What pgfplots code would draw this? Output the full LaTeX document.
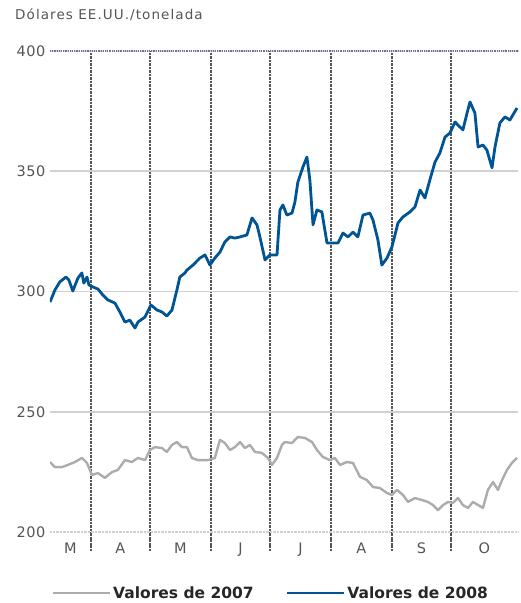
\documentclass[border=0pt]{standalone}
\usepackage{fontspec}
\setmainfont{DejaVu Sans}
\usepackage{pgfplots}
\pgfplotsset{compat=1.18}
\usepackage{pgfplotstable}

\definecolor{azul}{RGB}{0,84,147}
\definecolor{gris}{RGB}{172,172,172}
\definecolor{texto}{RGB}{85,85,85}
\definecolor{tope}{RGB}{110,110,170}

% day counted from 1 March 2008 (Apr 1 = 31 ... Oct 1 = 214), value in US$/t
\pgfplotstableread{
d v
10.2 229.1
12.7 227.0
16.3 227.0
19.3 227.9
22.9 229.1
26.4 230.8
29.0 228.7
31.5 223.7
34.6 224.5
38.1 222.5
41.7 224.9
44.7 225.8
48.3 229.9
51.8 229.1
54.9 230.8
58.5 229.9
61.0 234.1
63.5 235.3
67.1 234.9
69.6 233.3
72.2 236.2
74.7 237.4
77.3 235.3
79.8 235.3
82.3 230.8
85.4 229.9
90.5 229.9
94.0 230.8
96.6 238.3
99.1 237.0
101.7 234.1
104.2 235.3
106.8 237.4
109.3 234.9
111.8 236.2
114.4 233.3
117.9 232.9
121.0 230.8
123.0 227.9
125.6 230.8
128.1 236.2
129.6 237.4
133.2 237.0
136.2 239.5
139.8 239.1
143.4 237.4
145.9 234.1
148.9 231.2
152.5 229.9
155.0 230.8
157.6 227.9
161.2 229.1
164.2 228.7
167.8 222.9
171.3 221.6
174.4 218.7
177.9 218.3
181.5 216.2
184.0 215.4
186.6 217.5
189.6 215.4
192.2 212.5
195.7 214.1
199.3 213.3
202.3 212.5
204.9 211.2
207.4 209.1
210.0 211.2
212.5 212.5
215.0 212.1
217.6 214.1
220.1 211.2
222.7 210.0
225.2 212.5
227.8 211.2
230.3 210.0
232.8 217.5
235.4 220.8
237.9 217.5
240.0 221.6
242.5 225.8
245.0 228.7
247.6 230.8
}\datosA

\pgfplotstableread{
d v
10.2 295.6
12.7 300.6
15.2 304.0
18.3 306.0
19.8 304.8
21.8 300.2
24.4 305.6
26.4 307.7
27.4 303.5
29.0 306.0
30.0 302.7
32.0 301.9
34.6 301.0
37.1 298.5
39.6 296.5
43.2 295.2
45.7 291.5
48.3 287.3
50.8 288.1
53.4 284.8
54.9 287.3
58.5 289.4
61.5 294.4
64.6 292.3
67.1 291.5
69.6 289.8
72.2 292.3
74.7 300.6
76.2 306.0
78.8 307.7
79.8 308.9
82.9 311.0
86.4 313.9
89.0 315.2
91.5 311.0
94.0 313.9
96.6 316.4
99.1 320.6
101.7 322.7
104.2 322.2
106.8 322.7
110.3 323.5
112.9 330.6
115.4 327.7
116.9 322.7
119.5 313.1
122.0 315.2
125.6 315.2
127.1 333.9
128.6 336.0
130.6 331.8
133.2 332.6
134.7 337.2
136.2 345.5
138.8 351.8
140.8 355.9
142.3 346.4
143.9 327.7
145.9 333.9
148.4 333.1
151.0 320.2
153.5 320.2
156.6 320.2
159.1 324.3
161.7 322.7
164.2 324.7
166.7 322.7
169.3 331.8
172.8 332.6
174.4 329.7
176.9 321.4
178.9 311.0
181.5 313.9
184.0 318.5
187.1 328.5
189.6 331.0
193.2 333.1
195.7 335.1
198.3 342.2
200.8 338.9
203.3 346.4
205.9 353.8
208.4 357.6
211.0 364.2
213.5 365.9
216.1 370.5
217.6 369.2
220.1 367.2
222.2 374.2
223.7 378.8
226.2 374.2
227.8 360.1
230.3 360.9
232.3 358.8
234.9 351.4
236.4 360.1
238.9 370.1
241.5 372.6
244.0 371.3
245.5 373.4
247.6 376.3
}\datosB

\begin{document}
\begin{tikzpicture}
\useasboundingbox (-50pt,-71pt) rectangle (470pt,532pt);
\begin{axis}[
  at={(0pt,0pt)}, anchor=south west,
  scale only axis, width=468pt, height=481pt,
  xmin=10.2, xmax=248.1, ymin=200, ymax=400,
  axis line style={draw=none},
  ytick={250,300,350},
  extra y ticks={200,400},
  extra y tick style={grid style={densely dotted, line width=1.2pt, color=texto}},
  ymajorgrids, y grid style={line width=1.5pt, color=black!18},
  ytick style={draw=none},
  xtick={31,61,92,122,153,184,214},
  xticklabels={},
  xmajorgrids, x grid style={densely dotted, line width=1.4pt, color=texto},
  xtick pos=bottom, tick align=outside, major tick length=18pt,
  xtick style={densely dotted, line width=1.4pt, color=texto},
  extra x ticks={20.6,46,76.5,107,137.5,168.5,199,231},
  extra x tick labels={M,A,M,J,J,A,S,O},
  extra x tick style={grid=none, major tick length=0pt, xtick style={draw=none}},
  tick label style={font=\fontsize{14.5}{16}\selectfont\addfontfeature{LetterSpace=4}, text=texto},
  /pgf/number format/assume math mode=true,
  yticklabel style={xshift=17pt},
  xticklabel style={yshift=-7pt},
  legend columns=2,
  legend style={at={(0.472,0)}, anchor=center, yshift=-61pt, draw=none, fill=none,
    font=\fontsize{15.5}{17}\selectfont\bfseries, text=black!85,
    /tikz/every even column/.append style={column sep=30pt}},
  legend image code/.code={\draw[#1] (0pt,0pt) -- (57pt,0pt);},
]
\addplot[gris, line width=2.4pt, line join=round] table[x=d, y=v] {\datosA};
\addlegendentry{Valores de 2007}
\addplot[azul, line width=2.8pt, line join=round] table[x=d, y=v] {\datosB};
\addlegendentry{Valores de 2008}
\draw[densely dotted, line width=1.2pt, color=tope] (rel axis cs:0,1) -- (rel axis cs:1,1);
\end{axis}
\node[anchor=west, text=texto, inner sep=0pt, font=\fontsize{13.5}{15}\selectfont\addfontfeature{LetterSpace=8}] at (-35pt,517pt) {Dólares EE.UU./tonelada};
\end{tikzpicture}
\end{document}
